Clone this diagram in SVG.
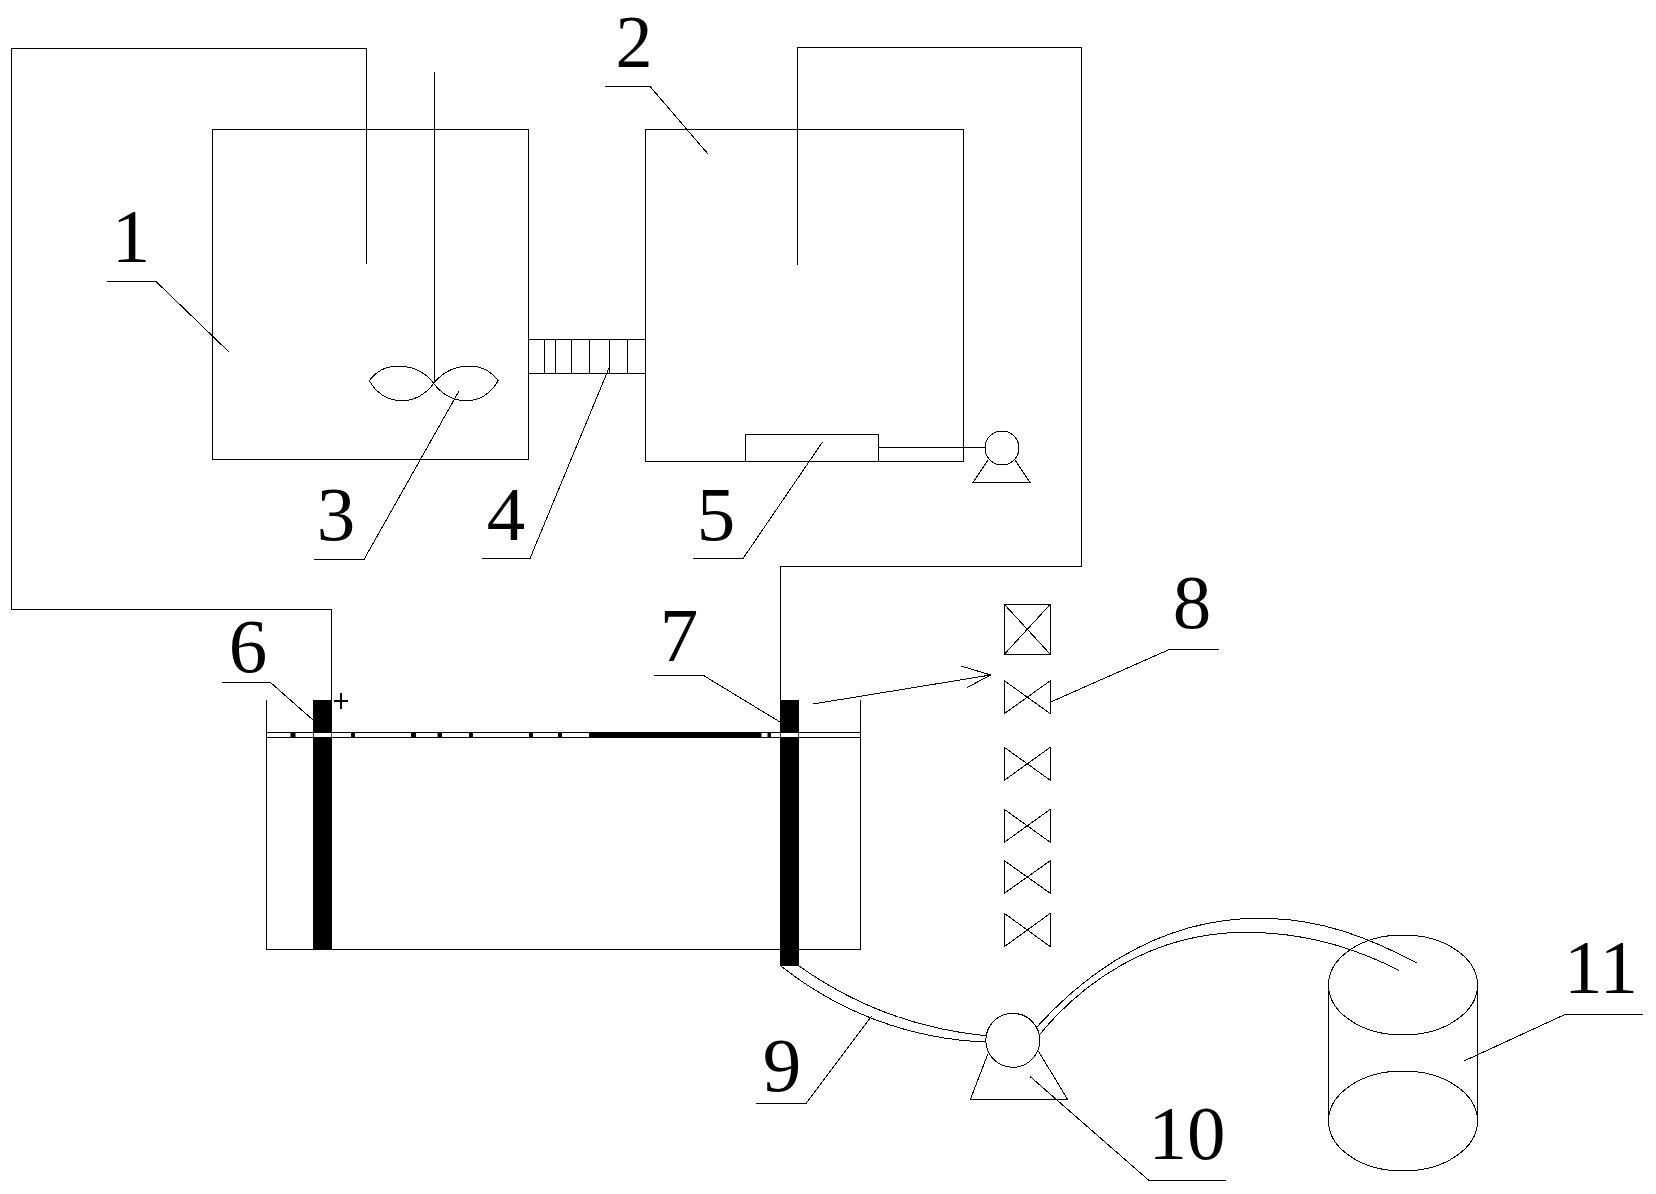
<svg xmlns="http://www.w3.org/2000/svg" width="1656" height="1194" viewBox="0 0 1656 1194">
<style>
.l{fill:none;stroke:#000;stroke-width:1;shape-rendering:crispEdges}
.t{fill:none;stroke:#000;stroke-width:1;shape-rendering:crispEdges}
.n{font-family:"Liberation Serif",serif;font-size:77px;fill:#000;text-anchor:middle}
</style>
<rect width="1656" height="1194" fill="#fff"/>
<g id="connectors">
<path class="l" d="M366.500 264V48.500H11.500V609.500H331.500V700"/>
<path class="l" d="M797.500 265V47.500H1081.500V566.500H780.500V700"/>
<path class="l" d="M878 447.500H985"/>
<path class="t" d="M781 966A349 349 0 0 0 985.700 1042M799 966A388 388 0 0 0 985.700 1035.700"/>
<path class="t" d="M1036.700 1027.300C1075 985 1150 918 1260 918.300C1320 918 1370 938 1417.300 963.300M1039.300 1035C1080 985 1150 932 1246.700 932.300C1300 932.500 1350 945 1399.300 970.700"/>
<path class="t" d="M813 704L990.700 675M961 666L990.700 675L966.700 687.700"/>
</g>
<g id="tank1"><rect class="l" x="212.500" y="129.500" width="316" height="330"/></g>
<g id="tank2"><rect class="l" x="645.500" y="129.500" width="318" height="332"/></g>
<g id="stirrer"><path class="t" d="M434.500 72V383M433.700 383.300C418 363 385 359 369.300 380.700C385 408 418 406 433.700 383.300C450 363 482 359 498.300 380.700C482 408 450 406 433.700 383.300Z"/></g>
<g id="tube"><path class="l" d="M528 339.500H645M528 373.500H645M544.500 339V373M555.500 339V373M571.500 339V373M589.500 339V373M609.500 339V373M627.500 339V373"/></g>
<g id="filter"><rect class="l" x="745.500" y="434.500" width="133" height="27"/></g>
<g id="pump1"><circle class="t" cx="1002" cy="448" r="17"/><path class="t" d="M988 460L973 482.500H1030L1015 460"/></g>
<g id="cell">
<path class="l" d="M266.500 700V949.500H860.500V700M266.500 732.500H860.500M266.500 737.500H860.500"/>
<rect x="313" y="700" width="19" height="249"/><rect x="780" y="700" width="19" height="266"/>
<rect x="313.800" y="733" width="17.500" height="4" fill="#fff"/><rect x="780.800" y="733" width="17.500" height="4" fill="#fff"/>
<path d="M290.500 732h5v5h-5zM351 732h4v5h-4zM411 732h5v5h-5zM437.500 732h4.500v5h-4.500zM469 732h4v5h-4zM529 732h4v5h-4zM558 732h4v5h-4zM589 732h172.500v5H589zM767.500 732h3.500v5h-3.500z"/>
<path d="M334 700h14v2h-14zM340 693h2v16h-2z"/>
</g>
<g id="valves"><path class="t" d="M1004.500 604.500H1050.500V654.500H1004.500ZM1004.300 604.300L1050.300 654.300M1050.300 604.300L1004.300 654.300"/>
<path class="t" d="M1004.300 680.700L1050.300 713.700V680.700L1004.300 713.700ZM1004.300 747.300L1050.300 780.300V747.300L1004.300 780.300ZM1004.300 809.300L1050.300 842.300V809.300L1004.300 842.300ZM1004.300 860.700L1050.300 893.300V860.700L1004.300 893.300ZM1004.300 913.300L1050.300 946.700V913.300L1004.300 946.700Z"/></g>
<g id="pump2"><circle class="t" cx="1012.800" cy="1040.300" r="27"/><path class="t" d="M987.700 1054.300L970.300 1099.500H1067.700L1038.300 1051"/></g>
<g id="vessel"><ellipse class="t" cx="1403" cy="985" rx="74.500" ry="50"/><path class="t" d="M1328.500 985V1121A74.500 50 0 0 0 1477.500 1121V985M1328.500 1121A74.500 50 0 0 1 1477.500 1121"/></g>
<g id="labels">
<path class="t" d="M107 281.500H156L229 352M605 86.500H650L708 154M314 559.500H364L459 391M481.500 558.500H530L609 368M693 558.500H743L822.500 442M222 682.500H270.500L313 720M654 675.500H703.600L780 722M1219 649.500H1169.300L1050.700 702M756 1103.500H806L871.700 1016M1226 1180.500H1149L1030.300 1076.700M1643 1014.500H1565L1464 1061"/>
<text class="n" x="131" y="262">1</text><text class="n" x="634" y="66.500" style="font-size:74px">2</text><text class="n" x="336" y="539.500">3</text><text class="n" x="506" y="539.500">4</text><text class="n" x="716" y="539.500">5</text><text class="n" x="248" y="671.500">6</text><text class="n" x="679" y="660.500">7</text><text class="n" x="1192" y="628">8</text><text class="n" x="782" y="1090.500">9</text><text class="n" x="1187" y="1158.500">10</text><text class="n" x="1601" y="992.500">11</text>
</g>
</svg>
